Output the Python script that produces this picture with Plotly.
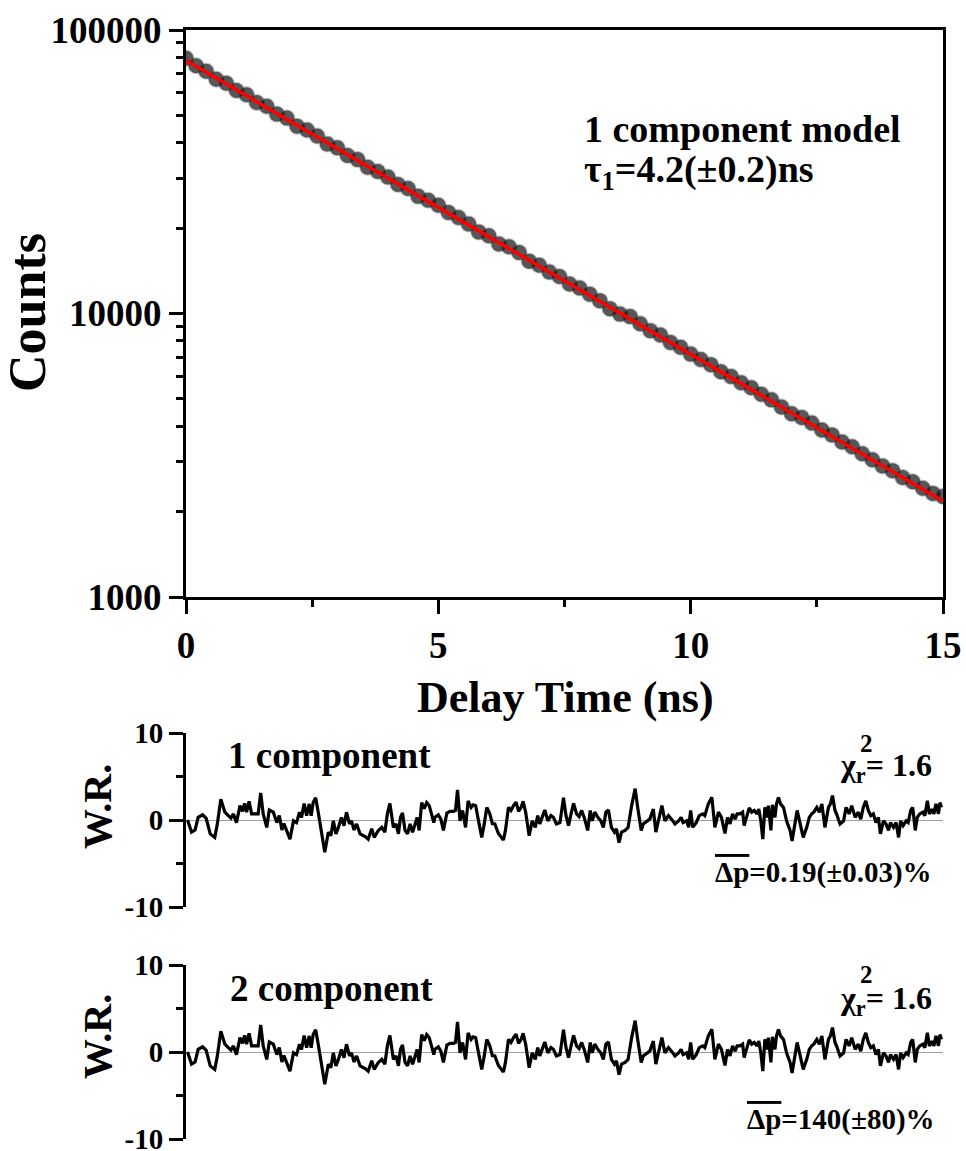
import plotly.graph_objects as go

W, H = 966, 1151
FONT = "Liberation Serif, Times New Roman, serif"

# ---------------- data ----------------
decay_time = [0.0, 0.2, 0.4, 0.6, 0.8, 1.0, 1.2, 1.4, 1.6, 1.8, 2.0, 2.2, 2.4, 2.6, 2.8,
              3.0, 3.2, 3.4, 3.6, 3.8, 4.0, 4.2, 4.4, 4.6, 4.8, 5.0, 5.2, 5.4, 5.6, 5.8,
              6.0, 6.2, 6.4, 6.6, 6.8, 7.0, 7.2, 7.4, 7.6, 7.8, 8.0, 8.2, 8.4, 8.6, 8.8,
              9.0, 9.2, 9.4, 9.6, 9.8, 10.0, 10.2, 10.4, 10.6, 10.8, 11.0, 11.2, 11.4, 11.6, 11.8,
              12.0, 12.2, 12.4, 12.6, 12.8, 13.0, 13.2, 13.4, 13.6, 13.8, 14.0, 14.2, 14.4, 14.6, 14.8,
              15.0]
decay_counts = [79500, 74800, 71500, 67000, 64900, 61200, 59100, 55500, 53800, 50500,
                48900, 45800, 44400, 42300, 39600, 38400, 36100, 34900, 32800, 31700,
                30300, 28500, 27600, 25900, 25100, 24100, 22700, 21800, 20700, 19400,
                18800, 17600, 17200, 16400, 15300, 14800, 14000, 13500, 12700, 12300,
                11700, 11100, 10400, 9950, 9750, 9200, 8700, 8400, 7900, 7600,
                7190, 6880, 6600, 6230, 6000, 5700, 5470, 5190, 4960, 4680,
                4430, 4300, 4110, 3880, 3730, 3520, 3390, 3200, 3050, 2900,
                2790, 2640, 2550, 2420, 2320, 2260]

fit_time = [0.0, 15.0]
fit_counts = [78000, 2180]

res_time = [0.03, 0.11, 0.18, 0.24, 0.33, 0.40, 0.48, 0.57, 0.62, 0.69, 0.77, 0.84, 0.89, 0.94,
            1.00, 1.07, 1.12, 1.16, 1.20, 1.25, 1.30, 1.37, 1.43, 1.48, 1.53, 1.60, 1.65, 1.73,
            1.80, 1.85, 1.90, 1.94, 1.99, 2.06, 2.13, 2.19, 2.25, 2.29, 2.34, 2.39, 2.44, 2.48,
            2.52, 2.57, 2.62, 2.69, 2.75, 2.82, 2.87, 2.92, 2.97, 3.02, 3.08, 3.13, 3.18, 3.24,
            3.28, 3.33, 3.38, 3.45, 3.55, 3.61, 3.68, 3.73, 3.81, 3.88, 3.94, 3.99, 4.04, 4.11,
            4.16, 4.21, 4.25, 4.29, 4.34, 4.39, 4.44, 4.49, 4.54, 4.58, 4.62, 4.67, 4.72, 4.77,
            4.82, 4.87, 4.91,
            4.93, 5.00, 5.05, 5.10, 5.17, 5.23, 5.30, 5.34, 5.38, 5.43, 5.48, 5.54, 5.59, 5.65,
            5.69, 5.74, 5.79, 5.86, 5.91, 5.96, 6.02, 6.07, 6.12, 6.19, 6.29, 6.33, 6.39, 6.44,
            6.49, 6.54, 6.59, 6.64, 6.68, 6.73, 6.80, 6.86, 6.92, 6.97, 7.01, 7.06, 7.11, 7.17,
            7.23, 7.28, 7.34, 7.41, 7.48, 7.53, 7.58, 7.63, 7.68, 7.74, 7.79, 7.84, 7.89, 7.96,
            8.01, 8.05, 8.10, 8.16, 8.22, 8.27, 8.32, 8.37, 8.43, 8.49, 8.53, 8.58, 8.63, 8.70,
            8.76, 8.83, 8.90, 8.95, 9.02, 9.06, 9.13, 9.19, 9.26, 9.31, 9.36, 9.43, 9.49, 9.56,
            9.62, 9.69, 9.76, 9.81, 9.85, 9.92, 9.96,
            10.00, 10.04, 10.11, 10.17, 10.24, 10.28, 10.35, 10.42, 10.48, 10.55, 10.61, 10.68,
            10.73, 10.78, 10.83, 10.88, 10.92, 10.98, 11.03, 11.06, 11.11, 11.16, 11.21, 11.26,
            11.31, 11.35, 11.39, 11.43, 11.47, 11.51, 11.54, 11.59, 11.62, 11.67, 11.70, 11.74,
            11.78, 11.84, 11.90, 11.97, 12.01, 12.07, 12.11, 12.17, 12.23, 12.30, 12.35, 12.40,
            12.44, 12.50, 12.55, 12.60, 12.66, 12.73, 12.77, 12.81, 12.86, 12.89, 12.96, 13.03,
            13.08, 13.14, 13.19, 13.26, 13.32, 13.37, 13.42, 13.47, 13.52, 13.57, 13.62, 13.67,
            13.72, 13.76, 13.82, 13.87, 13.92, 13.96, 14.02, 14.07, 14.12, 14.16, 14.21, 14.27,
            14.31, 14.36, 14.40, 14.45, 14.49, 14.54, 14.60, 14.64, 14.69, 14.73, 14.78, 14.82,
            14.86, 14.91, 14.94, 14.97]

residual_1c = [0.0, -1.4, -1.15, 0.3, 0.6, 0.2, -1.6, -2.0, -0.5, 2.4, 0.9, 0.5, 0.2, 0.7,
               -0.3, 1.65, 1.0, 1.9, 0.9, 2.15, 0.7, 0.7, 0.7, 3.1, 0.7, -0.85, 1.15, 0.9,
               -0.3, 0.5, -1.15, -0.4, -1.2, -2.2, -0.1, -0.3, 0.9, 0.3, 1.9, 0.5, 1.85, 0.5,
               2.0, 2.55, 0.9, -1.6, -3.7, -1.4, -1.8, -0.1, -1.6, -0.85, 0.3, -0.65, 0.9, -0.45,
               -0.1, -1.15, -0.45, -1.6, -1.9, -2.2, -1.0, -2.0, -1.2, -0.85, -1.4, 0.7, 1.9, -0.85,
               -0.45, -1.6, 0.3, 0.8, -1.2, -1.6, -0.45, -1.4, -0.3, 0.3, -1.2, 2.0, 1.3, 2.0,
               1.65, 0.5, -0.3,
               0.3, 0.6, 0.1, -1.2, 0.8, 1.0, 1.0, 1.1, 3.45, -0.1, 1.1, -0.85, 2.2, 1.45,
               1.75, 1.65, 0.1, -2.0, -0.45, 1.45, 0.7, -0.4, -0.45, -1.55, -2.3, -1.2, 1.45, 1.1,
               1.65, 2.05, 1.0, 1.45, 2.15, 0.9, -1.8, -0.1, -0.85, 0.5, -0.45, 0.3, 1.15, -0.1,
               0.5, 0.3, -0.45, -0.3, 2.55, 0.5, -0.65, 0.7, 1.9, 0.7, 0.4, 1.1, 0.3, -1.2,
               1.1, -0.1, 0.9, 0.3, -0.1, -0.85, 0.9, 1.15, -0.85, -1.4, -1.0, -2.6, -1.4, -1.2,
               -0.85, 1.65, 3.6, 1.45, -1.2, -0.45, -0.15, 0.1, 1.25, -1.4, -0.1, 1.65, -0.1, 0.5,
               0.1, -0.45, -0.1, 0.3, -0.3, -0.1, -0.85,
               1.1, -0.85, -0.3, 0.5, 0.7, 0.5, 1.85, 2.6, -0.85, 0.9, 0.3, -1.55,
               0.3, -0.45, 0.7, 0.1, 0.7, 0.7, 0.9, -0.65, 0.3, 1.4, 0.9, 1.1,
               0.7, 1.25, -0.1, -2.2, 1.45, 0.3, 1.65, -1.2, 1.75, 0.3, 1.85, 2.6,
               1.85, 1.45, -0.1, -1.2, -2.4, -0.45, 1.1, -0.45, -2.0, -0.85, 0.3, 0.7,
               0.9, 1.45, 0.9, 1.85, -0.85, 1.45, 1.85, 2.8, 1.1, 0.7, -0.45, -0.1,
               1.45, 0.7, 1.65, 0.3, 0.9, 0.1, 1.45, 2.2, 1.1, 0.5, 0.7, -0.3,
               0.3, -1.6, -0.1, -0.45, -1.2, -0.3, -0.85, -0.3, -2.0, -0.1, -0.65, -0.1,
               -0.3, 1.1, 1.45, -1.2, 0.3, 0.7, 0.9, 0.5, 2.2, 0.7, 1.25, 0.7,
               1.85, 0.7, 2.0, 1.45]
residual_2c = list(residual_1c)

x_ticks = [0, 5, 10, 15]
x_minor = [2.5, 7.5, 12.5]
y_ticks = [1000, 10000, 100000]
y_ticktext = ["1000", "10000", "100000"]
y_minor = [2000, 3000, 4000, 5000, 6000, 7000, 8000, 9000,
           20000, 30000, 40000, 50000, 60000, 70000, 80000, 90000]
wr_ticks = [-10, 0, 10]
wr_ticktext = ["-10", "0", "10"]
wr_minor = [-5, 5]


def px(x):
    return x / W


def py(y):
    return 1 - y / H


fig = go.Figure()
fig.add_trace(go.Scatter(x=decay_time, y=decay_counts, mode="markers",
                         marker=dict(size=15, color="rgba(15,15,15,0.7)",
                                     line=dict(width=2, color="rgba(80,80,80,0.35)")),
                         xaxis="x", yaxis="y"))
fig.add_trace(go.Scatter(x=fit_time, y=fit_counts, mode="lines",
                         line=dict(color="#ff0000", width=3.5), xaxis="x", yaxis="y"))
fig.add_trace(go.Scatter(x=res_time, y=residual_1c, mode="lines",
                         line=dict(color="black", width=3.2), xaxis="x2", yaxis="y2"))
fig.add_trace(go.Scatter(x=res_time, y=residual_2c, mode="lines",
                         line=dict(color="black", width=3.2), xaxis="x3", yaxis="y3"))

xdom = [px(186), px(943)]
tickfont_big = dict(family=FONT, size=37, color="black", weight="bold")
tickfont_small = dict(family=FONT, size=29, color="black", weight="bold")

common_line = dict(showline=True, linecolor="black", linewidth=3, showgrid=False,
                   ticks="outside", tickcolor="black", tickwidth=2.5, ticklen=14,
                   automargin=False, ticklabeloverflow="allow")

fig.update_layout(
    template="none",
    width=W, height=H, margin=dict(l=0, r=0, t=0, b=0, autoexpand=False),
    paper_bgcolor="white", plot_bgcolor="white", showlegend=False,
    font=dict(family=FONT, color="black"),
    xaxis=dict(domain=xdom, anchor="y", range=[0, 15], tickvals=x_ticks, mirror=True,
               zeroline=False, tickfont=tickfont_big,
               minor=dict(tickvals=x_minor, ticks="outside", ticklen=7, tickwidth=2.5,
                          tickcolor="black", showgrid=False),
               **common_line),
    yaxis=dict(domain=[py(597), py(30)], anchor="x", type="log", range=[3, 5],
               tickvals=y_ticks, ticktext=y_ticktext, mirror=True, zeroline=False,
               tickfont=tickfont_big,
               minor=dict(tickvals=y_minor, ticks="outside", ticklen=7, tickwidth=2.5,
                          tickcolor="black", showgrid=False),
               **common_line),
    xaxis2=dict(domain=xdom, anchor="y2", range=[0, 15], visible=False),
    yaxis2=dict(domain=[py(907), py(733)], anchor="x2", range=[-10, 10],
                tickvals=wr_ticks, ticktext=wr_ticktext,
                zeroline=True, zerolinecolor="#a0a0a0", zerolinewidth=1,
                tickfont=tickfont_small,
                minor=dict(tickvals=wr_minor, ticks="outside", ticklen=7, tickwidth=2.5,
                           tickcolor="black", showgrid=False),
                **common_line),
    xaxis3=dict(domain=xdom, anchor="y3", range=[0, 15], visible=False),
    yaxis3=dict(domain=[py(1139), py(965)], anchor="x3", range=[-10, 10],
                tickvals=wr_ticks, ticktext=wr_ticktext,
                zeroline=True, zerolinecolor="#a0a0a0", zerolinewidth=1,
                tickfont=tickfont_small,
                minor=dict(tickvals=wr_minor, ticks="outside", ticklen=7, tickwidth=2.5,
                           tickcolor="black", showgrid=False),
                **common_line),
)


def ann(text, x, y, size, xanchor="left", angle=0):
    fig.add_annotation(text=text, x=px(x), y=py(y), xref="paper", yref="paper",
                       xanchor=xanchor, yanchor="middle", showarrow=False, textangle=angle,
                       font=dict(family=FONT, size=size, color="black", weight="bold"))


ann("Counts", 27, 313, 52, xanchor="center", angle=-90)
ann("Delay Time (ns)", 565, 697, 44, xanchor="center")
ann("1 component model", 582, 129, 38)
ann("τ<sub>1</sub>=4.2(±0.2)ns", 582, 172, 38)

ann("W.R.", 97, 807, 40, xanchor="center", angle=-90)
ann("W.R.", 97, 1037, 40, xanchor="center", angle=-90)
ann("1 component", 226, 755, 37)
ann("2 component", 228, 988, 37)

ann("χ<sub>r</sub>= 1.6", 934, 767, 32, xanchor="right")
ann("2", 866, 743, 25, xanchor="center")
ann("χ<sub>r</sub>= 1.6", 934, 1001, 32, xanchor="right")
ann("2", 866, 974, 25, xanchor="center")

ann('<span style="text-decoration:overline">Δp</span>=0.19(±0.03)%', 934, 872, 29, xanchor="right")
ann('<span style="text-decoration:overline">Δp</span>=140(±80)%', 937, 1119, 29, xanchor="right")

fig.write_html("out.html")
